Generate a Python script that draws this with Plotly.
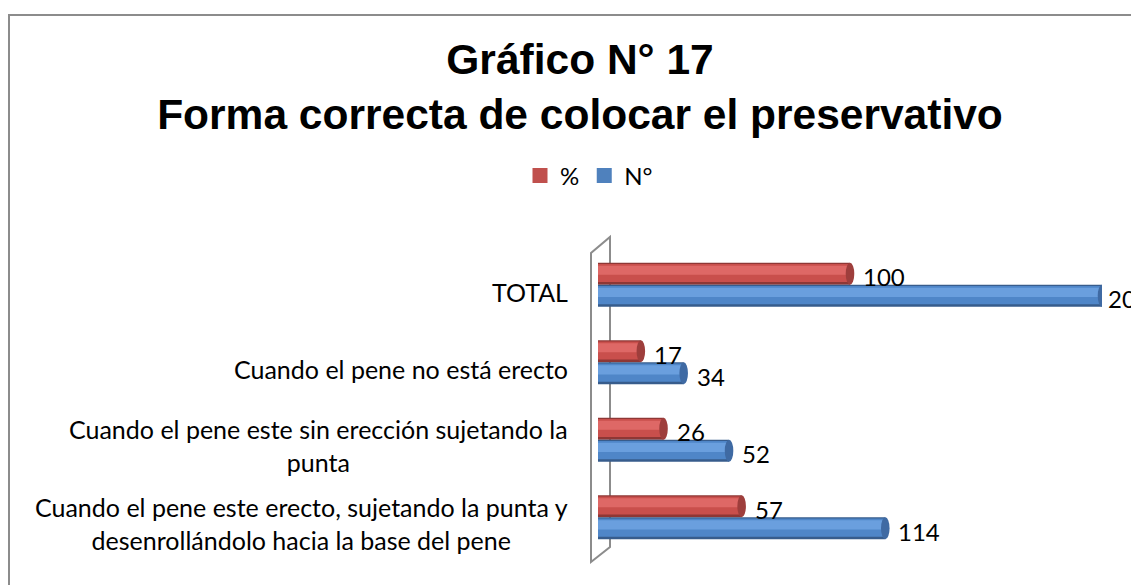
import plotly.graph_objects as go

# ---------------- data ----------------
categories = [
    "Cuando el pene este erecto, sujetando la punta y<br>desenrollándolo hacia la base del pene",
    "Cuando el pene este sin erección sujetando la<br>punta",
    "Cuando el pene no está erecto",
    "TOTAL",
]
pct_values = [57, 26, 17, 100]
num_values = [114, 52, 34, 200]
series_names = ["%", "N°"]

title_text = "<b>Gráfico N° 17<br>Forma correcta de colocar el preservativo</b>"

# ---------------- style ----------------
W = 0.285  # bar thickness in category units
red = dict(dark="#8E3735", mid="#C94F4C", light="#DE6866", cap="#9E3E3C", legend="#C0504D")
blue = dict(dark="#375C8C", mid="#4F86C8", light="#6A9FDE", cap="#3F6AA3", legend="#4F81BD")
LABEL_FONT = "Lato"
LABEL_SIZE = 25

positions = list(range(len(categories)))

# page offset of the plot div (body margin) is 8px: work in figure pixels
OFF = 8
FIG_W, FIG_H = 1139, 585
L, R, T, B = 598 - OFF, 1102 - OFF, 246 - OFF, 556 - OFF


def px(x):  # page pixel x -> paper
    return (x - OFF - L) / (R - L)


def py(y):  # page pixel y -> paper
    return (B - (y - OFF)) / (B - T)


fig = go.Figure()

series = [
    (series_names[0], pct_values, 0.0, red),
    (series_names[1], num_values, -W, blue),
]

layers = [  # (start fraction, end fraction, color key)
    (0.0, 1.0, "dark"),
    (0.12, 0.94, "mid"),
    (0.45, 0.86, "light"),
]

for name, vals, off, col in series:
    for f0, f1, key in layers:
        fig.add_trace(go.Bar(
            orientation="h",
            y=positions,
            x=vals,
            base=0,
            offset=off + f0 * W,
            width=(f1 - f0) * W,
            marker=dict(color=col[key], line=dict(width=0)),
            name=name,
            showlegend=False,
            hoverinfo="skip",
        ))
    # legend entry (square swatch)
    fig.add_trace(go.Scatter(
        x=[None], y=[None], mode="markers", name=name,
        marker=dict(symbol="square", size=15, color=col["legend"]),
        showlegend=True,
    ))

shapes = []
annotations = []
max_val = max(num_values)

# cylinder end caps and value labels
for name, vals, off, col in series:
    for p, v in zip(positions, vals):
        shapes.append(dict(
            type="circle", xref="x", yref="y",
            x0=v - 1.7, x1=v + 1.7, y0=p + off, y1=p + off + W,
            fillcolor=col["cap"], line=dict(width=0), layer="above",
        ))
        annotations.append(dict(
            x=v, y=p + off + W / 2, xref="x", yref="y",
            text=str(v), showarrow=False, xanchor="left", yanchor="middle",
            xshift=4 if v == max_val else 11, yshift=-3,
            font=dict(family=LABEL_FONT, size=LABEL_SIZE - 1, color="#000000"),
        ))

# category labels (centered multi-line, right anchored)
for p, c in zip(positions, categories):
    annotations.append(dict(
        x=0, y=p, xref="paper", yref="y", text=c, showarrow=False,
        xanchor="right", yanchor="middle", align="center",
        xshift=-28, yshift=-6 if "<br>" in c else -7,
        font=dict(family=LABEL_FONT, size=LABEL_SIZE, color="#000000"),
    ))

# 3D wall outline
wall = "M {},{} L {},{} L {},{} L {},{} Z".format(
    px(591), py(562), px(591), py(253), px(610), py(237), px(610), py(547))
shapes.append(dict(type="path", xref="paper", yref="paper", path=wall,
                   line=dict(color="#8C8C8C", width=2), layer="below"))

# chart border
shapes.append(dict(type="rect", xref="paper", yref="paper",
                   x0=px(9), x1=px(1170), y0=py(620), y1=py(15),
                   line=dict(color="#8C8C8C", width=2), layer="below"))

fig.update_layout(
    width=FIG_W, height=FIG_H, autosize=False,
    margin=dict(l=L, r=FIG_W - R, t=T, b=FIG_H - B, pad=0),
    paper_bgcolor="white", plot_bgcolor="rgba(0,0,0,0)",
    barmode="overlay",
    title=dict(text=title_text, x=(580 - OFF) / FIG_W, xanchor="center", xref="container",
               y=0.888, yanchor="middle", yref="container",
               font=dict(family="Liberation Sans", size=42.5, color="#000000")),
    xaxis=dict(range=[0, 200], visible=False, fixedrange=True),
    yaxis=dict(range=[-0.5, len(categories) - 0.5], visible=False, fixedrange=True),
    legend=dict(orientation="h", x=px(589), xanchor="center", y=py(176), yanchor="middle",
                font=dict(family=LABEL_FONT, size=LABEL_SIZE - 1, color="#000000"),
                traceorder="normal", itemwidth=30, bgcolor="rgba(0,0,0,0)"),
    shapes=shapes,
    annotations=annotations,
    showlegend=True,
)

fig.write_html("out.html")
